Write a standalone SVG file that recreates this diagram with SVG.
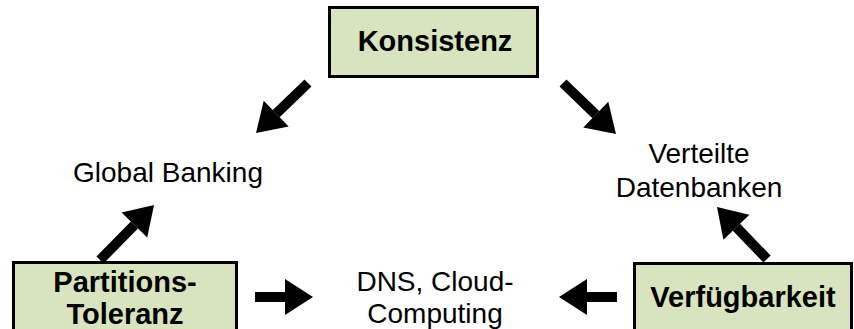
<svg xmlns="http://www.w3.org/2000/svg" width="854" height="329" viewBox="0 0 854 329">
<style>
.box{fill:#d7e4bd;stroke:#000;stroke-width:3}
.b{font-family:"Liberation Sans",Arial,sans-serif;font-weight:bold;font-size:29px;fill:#000;text-anchor:middle}
.t{font-family:"Liberation Sans",Arial,sans-serif;font-size:28px;fill:#000;text-anchor:middle}
.arr{stroke:#000;stroke-width:10;fill:none;marker-end:url(#head)}
</style>
<defs>
<marker id="head" markerWidth="28" markerHeight="36" refX="0" refY="18" orient="auto" markerUnits="userSpaceOnUse" overflow="visible">
<path d="M0,0 L28,18 L0,36 z" fill="#000"/>
</marker>
</defs>
<rect width="854" height="329" fill="#fff"/>
<g id="konsistenz">
<rect class="box" x="329.5" y="7.5" width="208" height="69"/>
<text class="b" x="435" y="51">Konsistenz</text>
</g>
<g id="partitionstoleranz">
<rect class="box" x="13.5" y="262.5" width="223" height="80"/>
<text class="b" x="125" y="292">Partitions-</text>
<text class="b" x="125" y="324">Toleranz</text>
</g>
<g id="verfuegbarkeit">
<rect class="box" x="634.5" y="263.5" width="217" height="80"/>
<text class="b" x="743" y="307">Verfügbarkeit</text>
</g>
<g id="globalbanking">
<text class="t" x="168" y="182">Global Banking</text>
</g>
<g id="verteiltedatenbanken">
<text class="t" x="699" y="163">Verteilte</text>
<text class="t" x="699" y="197">Datenbanken</text>
</g>
<g id="dnscloud">
<text class="t" x="435" y="291">DNS, Cloud-</text>
<text class="t" x="435" y="323">Computing</text>
</g>
<g id="connectors">
<line class="arr" x1="308" y1="83" x2="276.2" y2="113.6"/>
<line class="arr" x1="563" y1="83" x2="595.8" y2="114.6"/>
<line class="arr" x1="100" y1="260" x2="134.4" y2="225"/>
<line class="arr" x1="255" y1="297" x2="285" y2="297"/>
<line class="arr" x1="617" y1="297" x2="587" y2="297"/>
<line class="arr" x1="767" y1="259" x2="736.4" y2="227.2"/>
</g>
</svg>
